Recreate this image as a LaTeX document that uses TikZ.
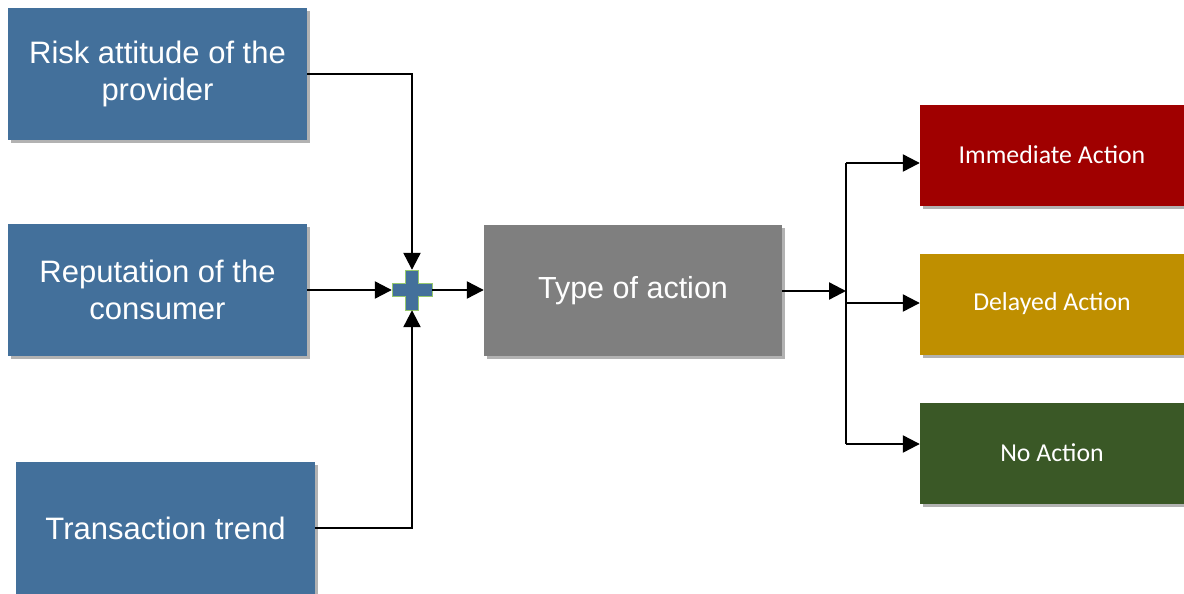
\documentclass[tikz,border=0pt]{standalone}
\usepackage{fontspec}
\setmainfont{Liberation Sans}
\newfontfamily\carlitofont{Carlito}
\usetikzlibrary{arrows.meta,shadows}
\definecolor{boxblue}{RGB}{67,112,155}
\definecolor{boxgray}{RGB}{127,127,127}
\definecolor{boxred}{RGB}{160,0,0}
\definecolor{boxgold}{RGB}{191,143,0}
\definecolor{boxgreen}{RGB}{58,88,38}
\definecolor{plusedge}{RGB}{150,200,110}
\tikzset{
  shade/.style={drop shadow={shadow xshift=3pt,shadow yshift=-3pt,opacity=0.3,fill=black}},
  inbox/.style={shade,fill=boxblue,draw=none,text=white,minimum width=299pt,minimum height=132pt,
    align=center,font=\fontsize{31}{37}\selectfont,inner sep=0pt},
  midbox/.style={shade,fill=boxgray,draw=none,text=white,minimum width=298pt,minimum height=131pt,
    align=center,font=\fontsize{30.5}{37}\selectfont,inner sep=0pt},
  outbox/.style={shade,draw=none,text=white,minimum width=264pt,minimum height=101pt,
    align=center,font=\carlitofont\fontsize{25.8}{30}\selectfont,inner sep=0pt},
  conn/.style={line width=2.3pt,black},
  arr/.style={conn,-{Triangle[length=17pt,width=17pt]}},
}
\begin{document}
\begin{tikzpicture}[x=1pt,y=-1pt]
\useasboundingbox (0,0) rectangle (1184,594);
\node[inbox] (risk) at (157.5,74) {Risk attitude of the\\provider};
\node[inbox] (rep) at (157.5,290) {Reputation of the\\consumer};
\node[inbox] (trans) at (165.5,528) {Transaction trend};
\node[midbox] (type) at (633,290.5) {Type of action};
\node[outbox,fill=boxred] (imm) at (1052,155) {Immediate Action};
\node[outbox,fill=boxgold] (del) at (1052,304) {Delayed Action};
\node[outbox,fill=boxgreen] (no) at (1052,453) {No Action};
% plus junction
\node[minimum width=40pt,minimum height=40pt,inner sep=0pt] (plus) at (412,290) {};
\fill[boxblue,draw=plusedge,line width=0.8pt]
  (plus.center) ++(-6.5,-20) -- ++(13,0) -- ++(0,13.5) -- ++(13.5,0) -- ++(0,13)
  -- ++(-13.5,0) -- ++(0,13.5) -- ++(-13,0) -- ++(0,-13.5) -- ++(-13.5,0)
  -- ++(0,-13) -- ++(13.5,0) -- cycle;
\coordinate (split) at (846,291);
\coordinate (ftop) at (846,163);
\coordinate (fbot) at (846,444);
\coordinate (fmid) at (846,303);
\draw[arr] (risk.east) -| (plus.north);
\draw[arr] (rep.east) -- (plus.west);
\draw[arr] (trans.east) -| (plus.south);
\draw[arr] (plus.east) -- (type.west |- plus.east);
\draw[arr] (type.east |- split) -- (split);
\draw[conn] (ftop) -- (fbot);
\draw[arr] (ftop) -- (imm.west |- ftop);
\draw[arr] (fmid) -- (del.west |- fmid);
\draw[arr] (fbot) -- (no.west |- fbot);
\end{tikzpicture}
\end{document}
